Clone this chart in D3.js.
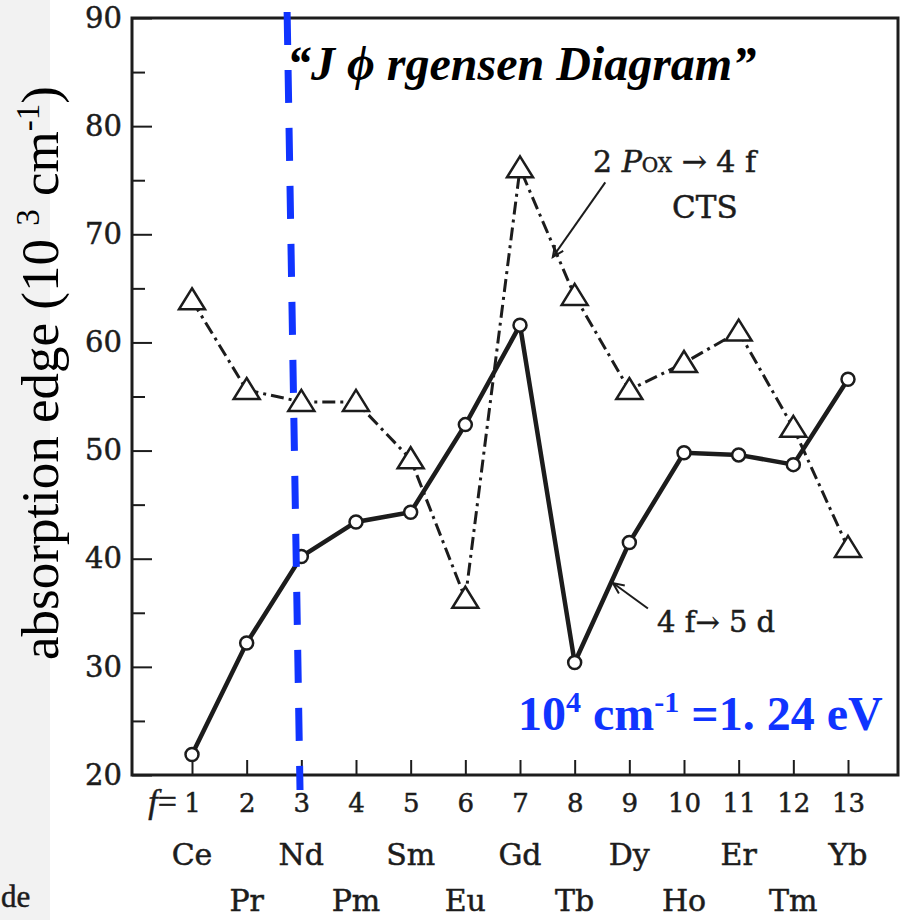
<!DOCTYPE html>
<html>
<head>
<meta charset="utf-8">
<script src="https://cdn.jsdelivr.net/npm/d3@7"></script>
<style>
  body { margin: 0; background: #fff; }
  svg { display: block; }
  .scan { stroke: #1c1c1c; stroke-width: 0.5px; }
</style>
</head>
<body>
<script>
// chart values

var fNumbers = [1, 2, 3, 4, 5, 6, 7, 8, 9, 10, 11, 12, 13];
var elements = ["Ce", "Pr", "Nd", "Pm", "Sm", "Eu", "Gd", "Tb", "Dy", "Ho", "Er", "Tm", "Yb"];

// 4f -> 5d (circles, solid line)
var edge4f5d = [21.9, 32.2, 40.2, 43.4, 44.3, 52.4, 61.6, 30.4, 41.5, 49.8, 49.6, 48.7, 56.6];
// 2p(ox) -> 4f CTS (triangles, dash-dot line)
var edgeCTS = [63.9, 55.6, 54.5, 54.5, 49.2, 36.3, 76.1, 64.3, 55.6, 58.1, 61.0, 52.1, 41.0];

var yMajor = [20, 30, 40, 50, 60, 70, 80, 90];
var yMinor = [25, 35, 45, 55, 65, 75, 85];

var w = 903;
var h = 920;

var x = d3.scaleLinear().domain([1, 13]).range([192, 848]);
var y = d3.scaleLinear().domain([20, 90]).range([775, 18]);

var ink = "#1c1c1c";
var blue = "#1034ff";
var serif = "'DejaVu Serif', serif";
var times = "'Liberation Serif', 'Times New Roman', serif";

var svg = d3.select("body").append("svg")
    .attr("width", w)
    .attr("height", h);

// greyish strip of the scanned page on the left
svg.append("rect")
    .attr("x", 0).attr("y", 0)
    .attr("width", 50).attr("height", h)
    .attr("fill", "#f2f2f2");

svg.append("text")
    .attr("x", 1).attr("y", 907)
    .attr("class", "scan")
    .style("font-family", times)
    .style("font-size", "31px")
    .attr("fill", ink)
    .text("de");

// frame
svg.append("rect")
    .attr("x", 132).attr("y", y(90))
    .attr("width", 898 - 132).attr("height", y(20) - y(90))
    .attr("fill", "none")
    .attr("stroke", ink)
    .attr("stroke-width", 3);

// axes, ticks pointing into the plot
var xAxis = svg.append("g")
    .attr("transform", "translate(0," + y(20) + ")")
    .call(d3.axisBottom(x).tickValues(fNumbers).tickSizeInner(-15).tickSizeOuter(0).tickPadding(19));

var yAxis = svg.append("g")
    .attr("transform", "translate(132,0)")
    .call(d3.axisLeft(y).tickValues(yMajor).tickSizeInner(-20).tickSizeOuter(0).tickPadding(10));

var yMinorAxis = svg.append("g")
    .attr("transform", "translate(132,0)")
    .call(d3.axisLeft(y).tickValues(yMinor).tickSizeInner(-13).tickSizeOuter(0).tickFormat(""));

[xAxis, yAxis, yMinorAxis].forEach(function(g) {
  g.select(".domain").remove();
  g.selectAll("line").attr("stroke", ink).attr("stroke-width", 2);
  g.selectAll("text").attr("fill", ink).attr("class", "scan").style("font-family", serif);
});
xAxis.selectAll("text").style("font-size", "26px");
yAxis.selectAll("text").style("font-size", "29px");

// "f =" in front of the first tick label
var fLabel = svg.append("text")
    .attr("x", 177).attr("y", 813)
    .attr("text-anchor", "end")
    .attr("class", "scan")
    .attr("fill", ink)
    .style("font-family", times)
    .style("font-size", "34px");
fLabel.append("tspan").style("font-style", "italic").text("f");
fLabel.append("tspan").text("=");

// element names on two staggered rows
svg.append("g").selectAll("text")
    .data(elements)
    .enter().append("text")
    .attr("x", function(d, i) { return x(fNumbers[i]); })
    .attr("y", function(d, i) { return i % 2 == 0 ? 865 : 911; })
    .attr("text-anchor", "middle")
    .attr("class", "scan")
    .attr("fill", ink)
    .style("font-family", serif)
    .style("font-size", "30px")
    .text(function(d) { return d; });

// y label
var yLabel = svg.append("text")
    .attr("transform", "translate(58,373) rotate(-90)")
    .attr("text-anchor", "middle")
    .attr("fill", "#000")
    .style("font-family", times)
    .style("font-size", "53px");
yLabel.append("tspan").text("absorption edge (10 ");
yLabel.append("tspan").attr("dy", -19).style("font-size", "33px").text("3");
yLabel.append("tspan").attr("dy", 19).text(" cm");
yLabel.append("tspan").attr("dy", -19).style("font-size", "33px").text("-1");
yLabel.append("tspan").attr("dy", 19).text(")");

// series
var line = d3.line()
    .x(function(d) { return x(d.f); })
    .y(function(d) { return y(d.v); });

var ctsData = fNumbers.map(function(f, i) { return { f: f, v: edgeCTS[i] }; });
var d5Data = fNumbers.map(function(f, i) { return { f: f, v: edge4f5d[i] }; });

svg.append("path")
    .datum(ctsData)
    .attr("d", line)
    .attr("fill", "none")
    .attr("stroke", ink)
    .attr("stroke-width", 3)
    .attr("stroke-dasharray", "13,5,3,5");

svg.append("path")
    .datum(d5Data)
    .attr("d", line)
    .attr("fill", "none")
    .attr("stroke", ink)
    .attr("stroke-width", 4.5);

svg.append("g").selectAll("path")
    .data(ctsData)
    .enter().append("path")
    .attr("transform", function(d) { return "translate(" + x(d.f) + "," + y(d.v) + ")"; })
    .attr("d", "M0,-12L13,9L-13,9Z")
    .attr("fill", "#fff")
    .attr("stroke", ink)
    .attr("stroke-width", 2.5);

svg.append("g").selectAll("circle")
    .data(d5Data)
    .enter().append("circle")
    .attr("cx", function(d) { return x(d.f); })
    .attr("cy", function(d) { return y(d.v); })
    .attr("r", 6.5)
    .attr("fill", "#fff")
    .attr("stroke", ink)
    .attr("stroke-width", 2.5);

// arrows pointing at the curves (in data units)
var arrows = [
  { from: { f: 8.56, v: 74.8 }, to: { f: 7.6, v: 67.9 } },
  { from: { f: 9.34, v: 35.4 }, to: { f: 8.7, v: 37.75 } }
];

svg.append("defs").append("marker")
    .attr("id", "head")
    .attr("viewBox", "-12 -6 14 12")
    .attr("refX", 0).attr("refY", 0)
    .attr("markerWidth", 14).attr("markerHeight", 12)
    .attr("markerUnits", "userSpaceOnUse")
    .attr("orient", "auto")
    .append("path")
    .attr("d", "M-11,-5L0,0L-11,5")
    .attr("fill", "none")
    .attr("stroke", ink)
    .attr("stroke-width", 2);

svg.append("g").selectAll("line")
    .data(arrows)
    .enter().append("line")
    .attr("x1", function(d) { return x(d.from.f); })
    .attr("y1", function(d) { return y(d.from.v); })
    .attr("x2", function(d) { return x(d.to.f); })
    .attr("y2", function(d) { return y(d.to.v); })
    .attr("stroke", ink)
    .attr("stroke-width", 2)
    .attr("marker-end", "url(#head)");

// annotation texts
var cts1 = svg.append("text")
    .attr("x", 593).attr("y", 172)
    .attr("class", "scan")
    .attr("fill", ink)
    .style("font-family", serif)
    .style("font-size", "30px");
cts1.append("tspan").text("2 ");
cts1.append("tspan").style("font-style", "italic").text("P");
cts1.append("tspan").style("font-size", "20px").text("OX");
cts1.append("tspan").text(" \u2192 4 f");

svg.append("text")
    .attr("x", 672).attr("y", 218)
    .attr("class", "scan")
    .attr("fill", ink)
    .style("font-family", serif)
    .style("font-size", "31px")
    .text("CTS");

svg.append("text")
    .attr("x", 657).attr("y", 632)
    .attr("class", "scan")
    .attr("fill", ink)
    .style("font-family", serif)
    .style("font-size", "29px")
    .text("4 f\u2192 5 d");

// title
svg.append("text")
    .attr("x", 287).attr("y", 80)
    .attr("fill", "#000")
    .style("font-family", times)
    .style("font-weight", "bold")
    .style("font-style", "italic")
    .style("font-size", "48px")
    .text("\u201cJ \u03d5 rgensen Diagram\u201d");

// unit note
var note = svg.append("text")
    .attr("x", 518).attr("y", 730)
    .attr("fill", blue)
    .style("font-family", times)
    .style("font-weight", "bold")
    .style("font-size", "48px");
note.append("tspan").text("10");
note.append("tspan").attr("dy", -18).style("font-size", "30px").text("4");
note.append("tspan").attr("dy", 18).text(" cm");
note.append("tspan").attr("dy", -18).style("font-size", "30px").text("-1");
note.append("tspan").attr("dy", 18).text(" =1. 24 eV");

// blue dashed marker line at f = 3 (slightly tilted as in the scan)
var marker = [{ f: 2.74, v: 90.56 }, { f: 2.976, v: 18.61 }];
svg.append("path")
    .datum(marker)
    .attr("d", line)
    .attr("fill", "none")
    .attr("stroke", blue)
    .attr("stroke-width", 7)
    .attr("stroke-dasharray", "33,25");
</script>
</body>
</html>
